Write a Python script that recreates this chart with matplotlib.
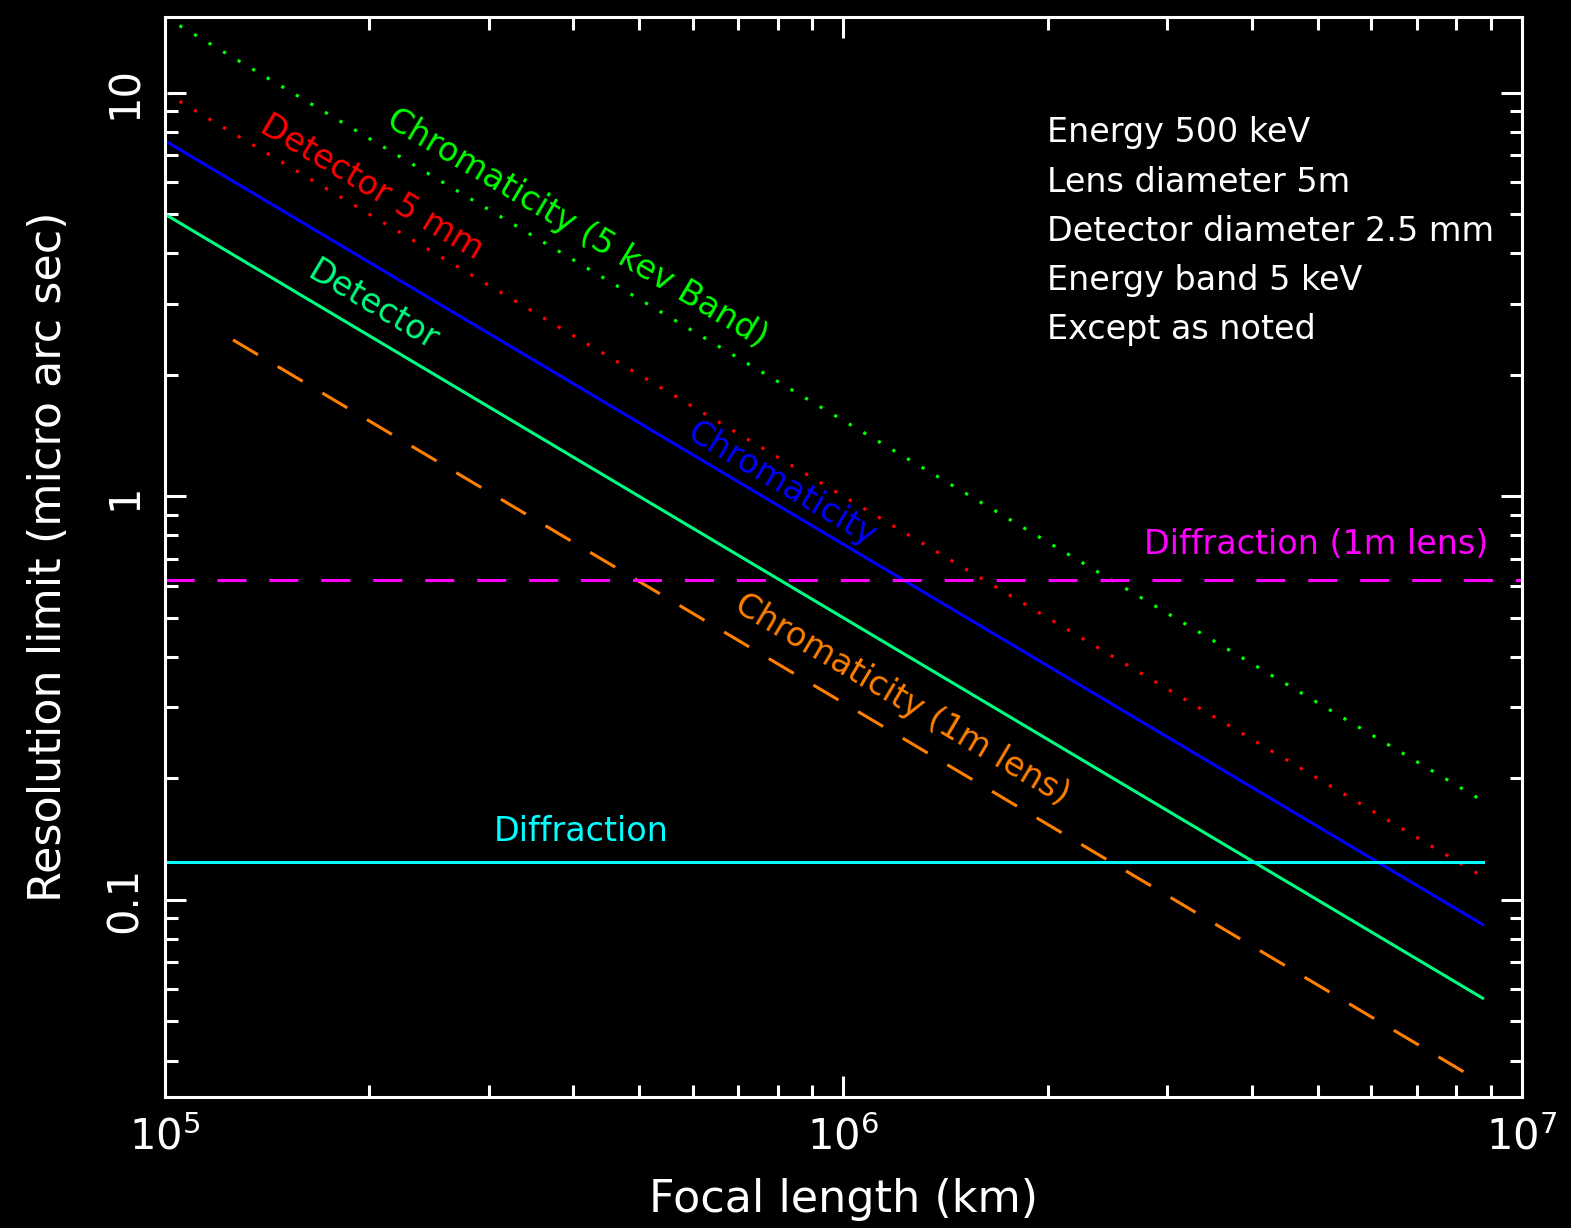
import numpy as np
import matplotlib
matplotlib.use("Agg")
import matplotlib.pyplot as plt

# focal length (km) at the ends of each curve
focal = [1e5, 8.75e6]
focal_1m = [1.26e5, 8.55e6]

# resolution limit (micro arc sec) at those ends
chrom_band = [15.4, 0.176]    # chromaticity, 5 keV band
det_5mm = [10.0, 0.1143]      # detector 5 mm
chrom = [7.6, 0.0869]         # chromaticity
det = [5.0, 0.0571]           # detector 2.5 mm
chrom_1m = [2.44, 0.036]      # chromaticity, 1 m lens
diff_1m = 0.62                # diffraction, 1 m lens
diff = 0.124                  # diffraction, 5 m lens

info_lines = ["Energy 500 keV", "Lens diameter 5m", "Detector diameter 2.5 mm",
              "Energy band 5 keV", "Except as noted"]

BG = "black"
FG = "white"
ANGLE = -30.7
LBL = 24

fig = plt.figure(figsize=(15.71, 12.28), dpi=100, facecolor=BG)
ax = fig.add_axes([0.105, 0.1067, 0.8638, 0.8795], facecolor=BG)
ax.set_xscale("log")
ax.set_yscale("log")

ax.plot(focal, chrom_band, color="#00ff00", lw=2.3, ls=(0, (1, 4.3)))
ax.plot(focal, det_5mm, color="#ff0000", lw=2.3, ls=(0, (1, 4.3)))
ax.plot(focal, chrom, color="#0000ff", lw=2.2)
ax.plot(focal, det, color="#00ff80", lw=2.2)
ax.plot(focal_1m, chrom_1m, color="#ff8000", lw=2.2, ls=(0, (9.5, 7.5)))
ax.axhline(diff_1m, color="#ff00ff", lw=2.2, ls=(0, (9.5, 7.5)))
ax.plot(focal, [diff, diff], color="#00ffff", lw=2.2)

ax.set_xlim(1e5, 1e7)
ax.set_ylim(0.0325, 15.4)

# curve labels
ax.text(4.05e5, 4.62, "Chromaticity (5 kev Band)", color="#00ff00", fontsize=LBL,
        rotation=ANGLE, ha="center", va="center", rotation_mode="anchor")
ax.text(2.02e5, 5.82, "Detector 5 mm", color="#ff0000", fontsize=LBL,
        rotation=ANGLE, ha="center", va="center", rotation_mode="anchor")
ax.text(2.03e5, 2.97, "Detector", color="#00ff80", fontsize=LBL,
        rotation=ANGLE, ha="center", va="center", rotation_mode="anchor")
ax.text(8.11e5, 1.07, "Chromaticity", color="#0000ff", fontsize=LBL,
        rotation=ANGLE, ha="center", va="center", rotation_mode="anchor")
ax.text(1.22e6, 0.313, "Chromaticity (1m lens)", color="#ff8000", fontsize=LBL,
        rotation=ANGLE, ha="center", va="center", rotation_mode="anchor")
ax.text(4.97e6, 0.759, "Diffraction (1m lens)", color="#ff00ff", fontsize=LBL,
        ha="center", va="center")
ax.text(4.1e5, 0.148, "Diffraction", color="#00ffff", fontsize=LBL,
        ha="center", va="center")

for i, line in enumerate(info_lines):
    ax.text(0.650, 0.8926 - i * 0.0455, line, color=FG, fontsize=LBL,
            transform=ax.transAxes, ha="left", va="center")

# frame and ticks
for sp in ax.spines.values():
    sp.set_color(FG)
    sp.set_linewidth(2.2)
ax.tick_params(which="both", direction="in", top=True, right=True,
               colors=FG, width=2.2)
ax.tick_params(which="major", length=15, labelsize=30, pad=14)
ax.tick_params(which="minor", length=9)
ax.set_yticks([0.1, 1, 10])
ax.set_yticklabels(["0.1", "1", "10"], rotation=90, va="center")
ax.set_xlabel("Focal length (km)", color=FG, fontsize=32, labelpad=14)
ax.set_ylabel("Resolution limit (micro arc sec)", color=FG, fontsize=32, labelpad=24)

fig.savefig("out.png", dpi=100, facecolor=BG)
